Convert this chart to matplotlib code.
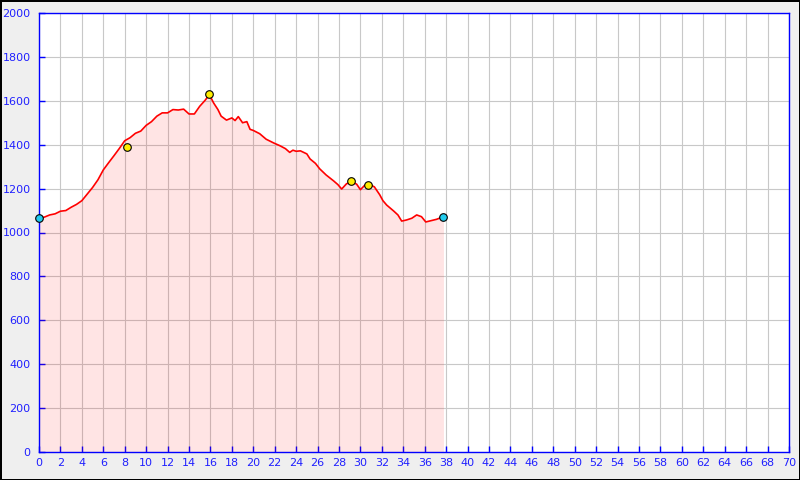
import matplotlib.pyplot as plt

# perfil de elevacion (km, m)
km = [0, 0.5, 1.0, 1.5, 2.0, 2.5, 3.0, 3.5, 4.0, 4.5, 5.0, 5.5, 6.0, 6.5, 7.0,
      7.5, 8.0, 8.5, 9.0, 9.5, 10.0, 10.5, 11.0, 11.5, 12.0, 12.5, 13.0, 13.5,
      14.0, 14.5, 15.0, 15.5, 15.9, 16.3, 16.7, 17.0, 17.5, 18.0, 18.3, 18.6,
      19.0, 19.4, 19.7, 20.0, 20.6, 21.2, 21.9, 22.5, 23.0, 23.4, 23.7, 24.0,
      24.4, 25.0, 25.3, 25.8, 26.2, 26.8, 27.5, 27.9, 28.25, 28.7, 29.2, 29.65,
      30.0, 30.4, 30.8, 31.3, 31.8, 32.1, 32.45, 33.1, 33.5, 33.85, 34.3, 34.8,
      35.25, 35.7, 36.1, 36.6, 37.1, 37.75]
elev = [1065, 1070, 1080, 1085, 1097, 1100, 1115, 1128, 1145, 1175, 1205, 1240,
        1285, 1318, 1350, 1383, 1418, 1432, 1452, 1462, 1488, 1505, 1530, 1545,
        1545, 1560, 1558, 1562, 1540, 1540, 1575, 1602, 1628, 1590, 1560, 1530,
        1512, 1522, 1510, 1528, 1500, 1505, 1470, 1465, 1450, 1425, 1408, 1395,
        1382, 1365, 1375, 1370, 1372, 1358, 1335, 1315, 1290, 1262, 1235, 1218,
        1198, 1222, 1232, 1220, 1195, 1215, 1220, 1208, 1172, 1145, 1125, 1098,
        1080, 1052, 1057, 1065, 1080, 1072, 1048, 1054, 1060, 1072]

# puntos de paso
wp_km = [8.2, 15.87, 29.1, 30.75]
wp_elev = [1390, 1630, 1235, 1217]
ext_km = [0, 37.75]
ext_elev = [1068, 1072]

fig = plt.figure(figsize=(8, 4.8), dpi=100)
fig.patch.set_facecolor('#efefef')
fig.patch.set_edgecolor('black')
fig.patch.set_linewidth(1.0)
ax = fig.add_axes([39 / 800, 28 / 480, 750 / 800, 439 / 480])

ax.grid(True, color='#c8c8c8', linewidth=0.8)
ax.set_axisbelow(True)
ax.fill_between(km, elev, 0, color='red', alpha=0.105, linewidth=0)
ax.plot(km, elev, color='red', linewidth=1.2)
ax.scatter(wp_km, wp_elev, s=30, c='#ffee00', edgecolors='black', linewidths=0.8, zorder=5)
ax.scatter(ext_km, ext_elev, s=30, c='#22ccee', edgecolors='black', linewidths=0.8, zorder=5, clip_on=False)

ax.set_xlim(0, 70)
ax.set_ylim(0, 2000)
ax.set_xticks(range(0, 71, 2))
ax.set_yticks(range(0, 2001, 200))
ax.tick_params(direction='in', length=4, width=1, color='blue', labelcolor='#2020ff', labelsize=8)
ax.tick_params(axis='x', pad=4)
ax.tick_params(axis='y', pad=6)
for s in ax.spines.values():
    s.set_color('blue')
    s.set_linewidth(1)

plt.savefig('out.png', dpi=100, facecolor=fig.get_facecolor(), edgecolor='black')
